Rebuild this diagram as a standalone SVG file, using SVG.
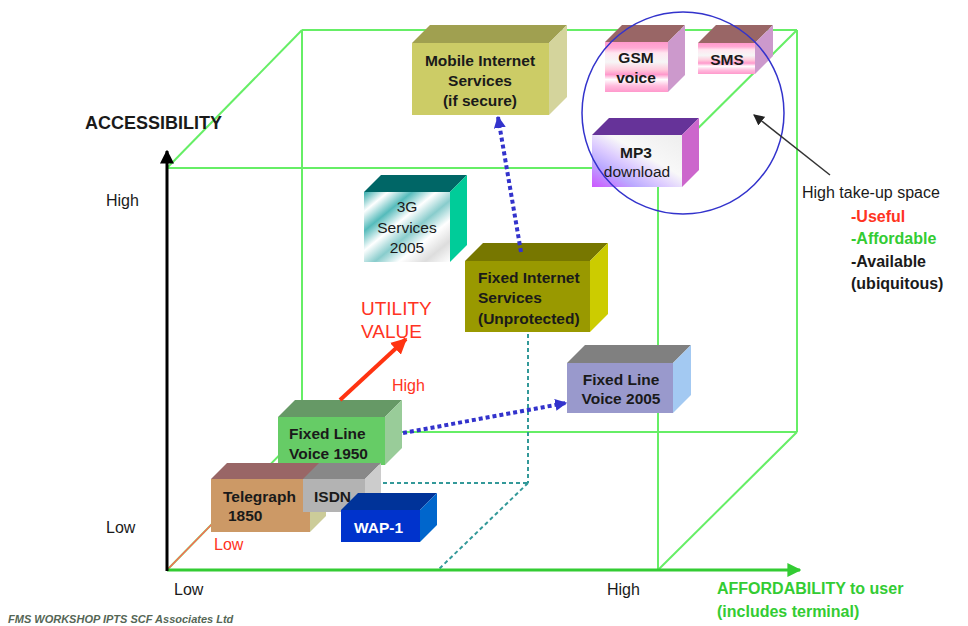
<svg xmlns="http://www.w3.org/2000/svg" width="968" height="626" viewBox="0 0 968 626">
  <style>
    .cube { stroke: #66ee66; stroke-width: 2; fill: none; }
    .guide { stroke: #339999; stroke-width: 2; stroke-dasharray: 4 3; fill: none; }
    .dots { stroke: #3333cc; stroke-width: 4; stroke-dasharray: 4 3; fill: none; }
    .lbl { font-family: "Liberation Sans", Arial, sans-serif; font-size: 16px; fill: #1a1a1a; }
    .bx { font-family: "Liberation Sans", Arial, sans-serif; font-size: 15.5px; font-weight: bold; fill: #1a1a1a; }
    .bxn { font-family: "Liberation Sans", Arial, sans-serif; font-size: 15.5px; fill: #1a1a1a; }
    .red { fill: #ff3322; }
    .green { fill: #33cc33; }
  </style>
  <defs>
    <marker id="ahBlue" viewBox="0 0 10 10" refX="9" refY="5" markerWidth="12" markerHeight="12" markerUnits="userSpaceOnUse" orient="auto">
      <path d="M0,0 L10,5 L0,10 z" fill="#3333cc"/>
    </marker>
    <marker id="ahRed" viewBox="0 0 10 10" refX="9" refY="5" markerWidth="16" markerHeight="16" markerUnits="userSpaceOnUse" orient="auto">
      <path d="M0,0 L10,5 L0,10 z" fill="#ff3311"/>
    </marker>
    <marker id="ahBlack" viewBox="0 0 10 10" refX="9" refY="5" markerWidth="11" markerHeight="11" markerUnits="userSpaceOnUse" orient="auto">
      <path d="M0,0 L10,5 L0,10 z" fill="#222222"/>
    </marker>
    <marker id="ahAxisK" viewBox="0 0 10 10" refX="9" refY="5" markerWidth="14" markerHeight="14" markerUnits="userSpaceOnUse" orient="auto">
      <path d="M0,0 L10,5 L0,10 z" fill="#000000"/>
    </marker>
    <marker id="ahAxisG" viewBox="0 0 10 10" refX="9" refY="5" markerWidth="14" markerHeight="14" markerUnits="userSpaceOnUse" orient="auto">
      <path d="M0,0 L10,5 L0,10 z" fill="#33cc33"/>
    </marker>
    <linearGradient id="gPink" x1="0" y1="0" x2="0" y2="1">
      <stop offset="0" stop-color="#ff99cc"/>
      <stop offset="0.12" stop-color="#ffaad4"/>
      <stop offset="0.22" stop-color="#ffe6f0"/>
      <stop offset="0.4" stop-color="#f6f6f6"/>
      <stop offset="0.55" stop-color="#ffccdd"/>
      <stop offset="0.65" stop-color="#ff99cc"/>
      <stop offset="0.75" stop-color="#ffffff"/>
      <stop offset="0.88" stop-color="#ffbbdd"/>
      <stop offset="1" stop-color="#ff99cc"/>
    </linearGradient>
    <linearGradient id="gMp3" x1="0" y1="1" x2="1" y2="0">
      <stop offset="0" stop-color="#cc55ff"/>
      <stop offset="0.25" stop-color="#bbaaff"/>
      <stop offset="0.42" stop-color="#ddccff"/>
      <stop offset="0.6" stop-color="#f8f8f8"/>
      <stop offset="1" stop-color="#eeeeee"/>
    </linearGradient>
    <linearGradient id="g3G" x1="0" y1="0" x2="1" y2="1">
      <stop offset="0" stop-color="#33aaaa"/>
      <stop offset="0.14" stop-color="#ffffff"/>
      <stop offset="0.28" stop-color="#55bbbb"/>
      <stop offset="0.42" stop-color="#ffffff"/>
      <stop offset="0.56" stop-color="#88cccc"/>
      <stop offset="0.7" stop-color="#ffffff"/>
      <stop offset="0.85" stop-color="#dddddd"/>
      <stop offset="1" stop-color="#ffffff"/>
    </linearGradient>
  </defs>

  <rect width="968" height="626" fill="#ffffff"/>

  <!-- wire-frame cube -->
  <g id="cube">
    <line class="cube" x1="302" y1="30" x2="797" y2="30"/>
    <line class="cube" x1="302" y1="30" x2="302" y2="432"/>
    <line class="cube" x1="797" y1="30" x2="797" y2="432"/>
    <line class="cube" x1="302" y1="432" x2="797" y2="432"/>
    <line class="cube" x1="167" y1="168" x2="658" y2="168"/>
    <line class="cube" x1="167" y1="168" x2="167" y2="570"/>
    <line class="cube" x1="658" y1="168" x2="658" y2="570"/>
    <line class="cube" x1="167" y1="168" x2="302" y2="30"/>
    <line class="cube" x1="658" y1="168" x2="797" y2="30"/>
    <line class="cube" x1="167" y1="570" x2="302" y2="432"/>
    <line class="cube" x1="658" y1="570" x2="797" y2="432"/>
    <line x1="167" y1="570" x2="212" y2="524" stroke="#ff6655" stroke-width="1.5"/>
  </g>

  <!-- projection guides -->
  <g id="guides">
    <line class="guide" x1="528" y1="334" x2="528" y2="483"/>
    <line class="guide" x1="383" y1="483" x2="528" y2="483"/>
    <line class="guide" x1="528" y1="483" x2="438" y2="570"/>
  </g>

  <!-- axes -->
  <g id="axes">
    <line x1="167" y1="570" x2="800" y2="570" stroke="#33cc33" stroke-width="3" marker-end="url(#ahAxisG)"/>
    <line x1="167" y1="571" x2="167" y2="151" stroke="#000000" stroke-width="3" marker-end="url(#ahAxisK)"/>
  </g>

  <!-- boxes -->
  <g id="mobile-internet">
    <polygon points="412,43 430,25 567,25 549,43" fill="#a0a050"/>
    <polygon points="549,43 567,25 567,97 549,115" fill="#d4d49c"/>
    <rect x="412" y="43" width="137" height="72" fill="#cccc66"/>
    <text class="bx" text-anchor="middle" x="480" y="66">Mobile Internet</text>
    <text class="bx" text-anchor="middle" x="480" y="86">Services</text>
    <text class="bx" text-anchor="middle" x="480" y="106">(if secure)</text>
  </g>

  <g id="gsm-voice">
    <polygon points="605,42 622,25 685,25 668,42" fill="#996666"/>
    <polygon points="668,42 685,25 685,75 668,92" fill="#cc99cc"/>
    <rect x="605" y="42" width="63" height="50" fill="url(#gPink)"/>
    <text class="bx" text-anchor="middle" x="636" y="63">GSM</text>
    <text class="bx" text-anchor="middle" x="636" y="83">voice</text>
  </g>

  <g id="sms">
    <polygon points="698,43 716,25 773,25 755,43" fill="#996666"/>
    <polygon points="755,43 773,25 773,56 755,74" fill="#cc99cc"/>
    <rect x="698" y="43" width="57" height="31" fill="url(#gPink)"/>
    <text class="bx" text-anchor="middle" x="727" y="65">SMS</text>
  </g>

  <g id="mp3-download">
    <polygon points="592,135 609,118 699,118 682,135" fill="#663399"/>
    <polygon points="682,135 699,118 699,170 682,187" fill="#cc66cc"/>
    <rect x="592" y="135" width="90" height="52" fill="url(#gMp3)"/>
    <text class="bx" text-anchor="middle" x="636" y="158">MP3</text>
    <text class="bxn" text-anchor="middle" x="637" y="177">download</text>
  </g>

  <g id="services-3g">
    <polygon points="364,192 381,175 467,175 450,192" fill="#006666"/>
    <polygon points="450,192 467,175 467,245 450,262" fill="#00cc99"/>
    <rect x="364" y="192" width="86" height="70" fill="url(#g3G)"/>
    <text class="bxn" text-anchor="middle" x="407" y="212">3G</text>
    <text class="bxn" text-anchor="middle" x="407" y="233">Services</text>
    <text class="bxn" text-anchor="middle" x="407" y="253">2005</text>
  </g>

  <g id="fixed-internet">
    <polygon points="465,261 483,243 608,243 590,261" fill="#777700"/>
    <polygon points="590,261 608,243 608,314 590,332" fill="#cccc00"/>
    <rect x="465" y="261" width="125" height="71" fill="#999900"/>
    <text class="bx" x="478" y="283">Fixed Internet</text>
    <text class="bx" x="478" y="303">Services</text>
    <text class="bx" x="478" y="324">(Unprotected)</text>
  </g>

  <g id="fixed-line-2005">
    <polygon points="567,363 585,345 691,345 673,363" fill="#808080"/>
    <polygon points="673,363 691,345 691,395 673,413" fill="#a3c9f2"/>
    <rect x="567" y="363" width="106" height="50" fill="#9999cc"/>
    <text class="bx" text-anchor="middle" x="621" y="385">Fixed Line</text>
    <text class="bx" text-anchor="middle" x="621" y="404">Voice 2005</text>
  </g>

  <g id="fixed-line-1950">
    <polygon points="278,417 295,400 402,400 385,417" fill="#669966"/>
    <polygon points="385,417 402,400 402,448 385,465" fill="#99cc99"/>
    <rect x="278" y="417" width="107" height="48" fill="#66cc66"/>
    <text class="bx" x="289" y="439">Fixed Line</text>
    <text class="bx" x="289" y="459">Voice 1950</text>
  </g>

  <g id="telegraph">
    <polygon points="211,479 227,463 326,463 310,479" fill="#996666"/>
    <polygon points="310,479 326,463 326,516 310,532" fill="#cccc99"/>
    <rect x="211" y="479" width="99" height="53" fill="#cc9966"/>
    <text class="bx" x="223" y="502">Telegraph</text>
    <text class="bx" x="228" y="521">1850</text>
  </g>

  <g id="isdn">
    <polygon points="303,479 319,463 381,463 365,479" fill="#888888"/>
    <polygon points="365,479 381,463 381,496 365,512" fill="#cccccc"/>
    <rect x="303" y="479" width="62" height="33" fill="#b3b3b3"/>
    <text class="bx" x="314" y="502">ISDN</text>
  </g>

  <g id="wap-1">
    <polygon points="341,510 358,493 437,493 420,510" fill="#003399"/>
    <polygon points="420,510 437,493 437,525 420,542" fill="#0066cc"/>
    <rect x="341" y="510" width="79" height="32" fill="#0033cc"/>
    <text class="bx" x="354" y="533" style="fill:#ffffff">WAP-1</text>
  </g>

  <!-- high take-up region -->
  <g id="take-up-space">
    <ellipse cx="683" cy="113" rx="101" ry="101" fill="none" stroke="#3333cc" stroke-width="1.5"/>
    <text class="lbl" x="802" y="198">High take-up space</text>
    <text class="lbl red" x="851" y="222" font-weight="bold">-Useful</text>
    <text class="lbl green" x="851" y="244" font-weight="bold">-Affordable</text>
    <text class="lbl" x="851" y="267" font-weight="bold">-Available</text>
    <text class="lbl" x="851" y="289" font-weight="bold">(ubiquitous)</text>
  </g>

  <!-- connectors -->
  <g id="connectors">
    <line class="dots" x1="521" y1="252" x2="498" y2="117" marker-end="url(#ahBlue)"/>
    <line class="dots" x1="403" y1="433" x2="566" y2="403" marker-end="url(#ahBlue)"/>
    <line x1="340" y1="400" x2="406" y2="339" stroke="#ff3311" stroke-width="4" marker-end="url(#ahRed)"/>
    <line x1="830" y1="175" x2="754" y2="115" stroke="#333333" stroke-width="1.5" marker-end="url(#ahBlack)"/>
  </g>

  <!-- axis labels -->
  <g id="labels">
    <text class="lbl" x="85" y="129" font-weight="bold" style="font-size:18px">ACCESSIBILITY</text>
    <text class="lbl" x="106" y="206">High</text>
    <text class="lbl" x="106" y="533">Low</text>
    <text class="lbl" x="174" y="595">Low</text>
    <text class="lbl" x="607" y="595">High</text>
    <text class="lbl green" x="717" y="594" font-weight="bold">AFFORDABILITY to user</text>
    <text class="lbl green" x="717" y="617" font-weight="bold">(includes terminal)</text>
    <text class="lbl red" x="361" y="315" style="font-size:19px">UTILITY</text>
    <text class="lbl red" x="361" y="338" style="font-size:19px">VALUE</text>
    <text class="lbl red" x="392" y="391">High</text>
    <text class="lbl red" x="214" y="550">Low</text>
    <text x="8" y="623" font-family="Liberation Sans, Arial, sans-serif" font-size="11" font-weight="bold" font-style="italic" fill="#556655">FMS WORKSHOP IPTS SCF Associates Ltd</text>
  </g>
</svg>
